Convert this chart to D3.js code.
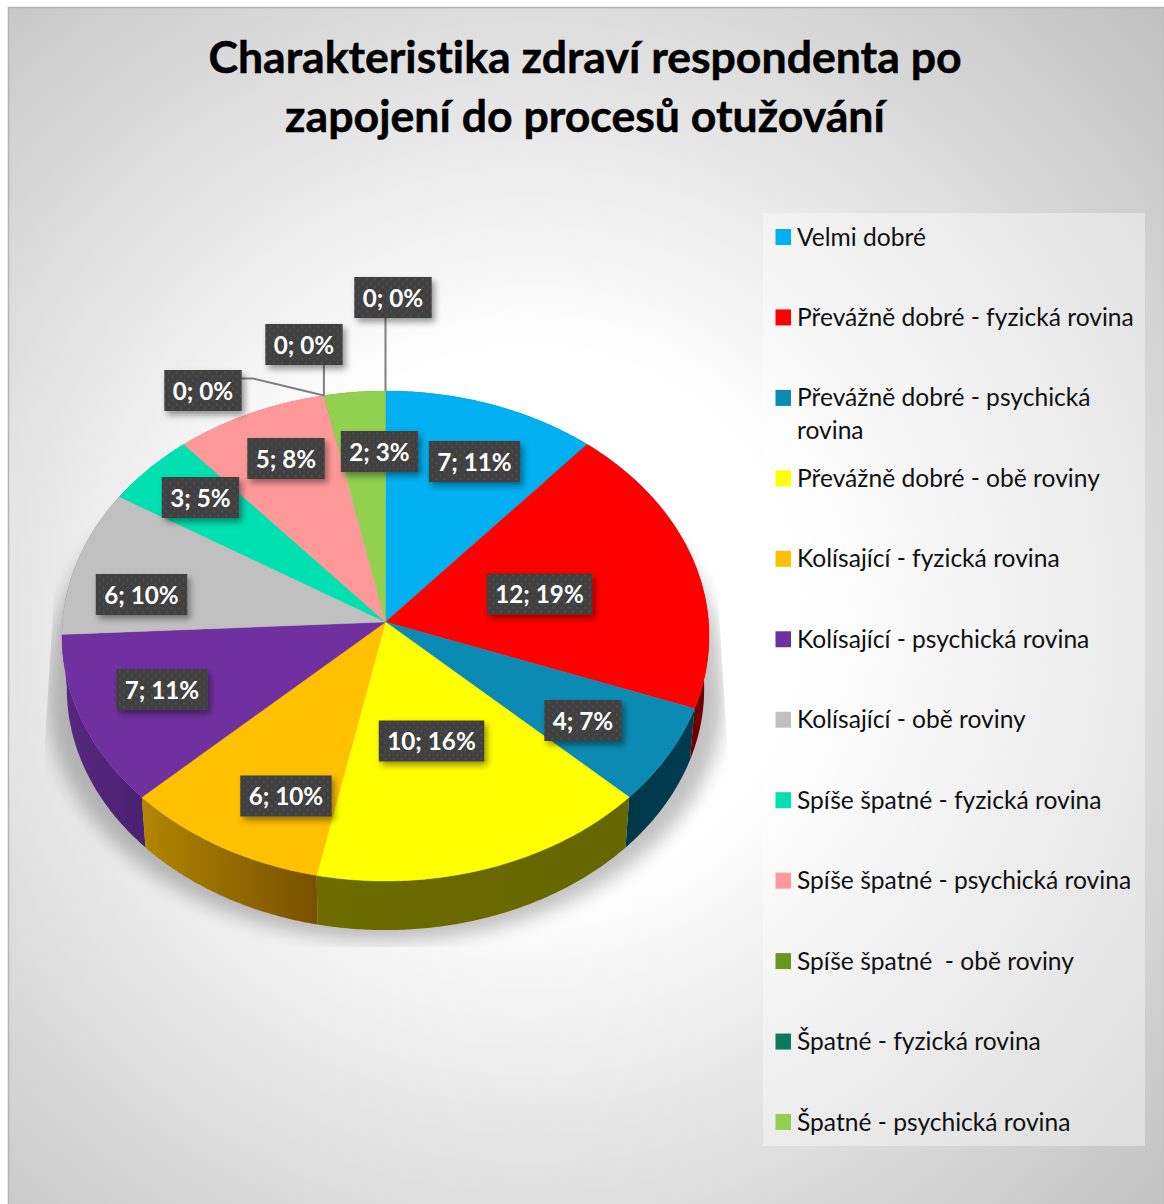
<!DOCTYPE html>
<html><head><meta charset="utf-8">
<script src="https://cdn.jsdelivr.net/npm/d3@7"></script>
<style>
html,body{margin:0;padding:0;background:#fff}
svg{display:block}
text{font-family:Lato,"Noto Sans",sans-serif;white-space:pre;font-variant-ligatures:none}
</style></head><body>
<div id="chart"></div>
<script>
const titleLines = ["Charakteristika zdraví respondenta po", "zapojení do procesů otužování"];
const categories = ["Velmi dobré","Převážně dobré - fyzická rovina","Převážně dobré - psychická rovina","Převážně dobré - obě roviny","Kolísající - fyzická rovina","Kolísající - psychická rovina","Kolísající - obě roviny","Spíše špatné - fyzická rovina","Spíše špatné - psychická rovina","Spíše špatné  - obě roviny","Špatné - fyzická rovina","Špatné - psychická rovina"];
const counts   = [7,12,4,10,6,7,6,3,5,0,0,2,0];
const percents = [11,19,7,16,10,11,10,5,8,0,0,3,0];
const colors = ["#00b0f0","#ff0000","#0b8bb3","#ffff00","#ffc000","#7030a0","#c0c0c0","#00e0b0","#ff9999","#669a1e","#0a7a5c","#92d050","#92d050"];
const sideStart = ["#006a90","#7c0000","#003c50","#666600","#785000","#4a2070","#747474","#008a6c","#995c5c","#3e5c12","#064a38","#587d30","#587d30"];
const sideEnd   = ["#006a90","#700000","#00384a","#6c6c00","#b28600","#57287f","#747474","#008a6c","#995c5c","#3e5c12","#064a38","#587d30","#587d30"];
// manual data-label layout, px from the pie centre (as a chart stores dragged labels)
const labelOffsets = [[89,-160.5],[154,-28],[197.5,98.5],[46,119],[-99.5,174],[-223.5,67.5],[-244,-27.5],[-185,-124.5],[-99.5,-163.5],[-182.5,-231.5],[-81.5,-277.5],[-6,-170.5],[7.5,-324.5]];

const W = 1164, H = 1204;
const cx = 385.5, cy = 622, A = 323, B = 244.2, K = 0.0571;
const DEPTH = 53, SHRINK = 0.985;

function project(theta, r, lower) {
  const u = r*Math.sin(theta), v = r*Math.cos(theta), d = 1 + K*v;
  const s = lower ? SHRINK : 1;
  return [cx + s*A*u/d, cy - s*B*v/d + (lower ? DEPTH : 0)];
}
const rimAngles = (a,b) => { const n = Math.max(2, Math.ceil((b-a)/0.01)); return d3.range(n+1).map(i => a + (b-a)*i/n); };

const svg = d3.select("#chart").append("svg").attr("width",W).attr("height",H);
const defs = svg.append("defs");

const bg = defs.append("radialGradient").attr("id","bg").attr("gradientUnits","userSpaceOnUse")
  .attr("cx",530).attr("cy",620).attr("r",900);
bg.append("stop").attr("offset",0.3).attr("stop-color","#ffffff");
bg.append("stop").attr("offset",1).attr("stop-color","#bebebe");

const blur = defs.append("filter").attr("id","blur").attr("x","-20%").attr("y","-20%").attr("width","140%").attr("height","140%");
blur.append("feGaussianBlur").attr("stdDeviation",9);

const ds = defs.append("filter").attr("id","boxShadow").attr("x","-20%").attr("y","-30%").attr("width","150%").attr("height","170%");
ds.append("feDropShadow").attr("dx",3).attr("dy",4).attr("stdDeviation",3).attr("flood-color","#000").attr("flood-opacity",0.4);

const pat = defs.append("pattern").attr("id","dots").attr("width",8).attr("height",8).attr("patternUnits","userSpaceOnUse");
pat.append("rect").attr("width",8).attr("height",8).attr("fill","#404040");
pat.append("rect").attr("x",1).attr("y",1).attr("width",1.6).attr("height",1.6).attr("fill","#555555");
pat.append("rect").attr("x",5).attr("y",5).attr("width",1.6).attr("height",1.6).attr("fill","#555555");

defs.append("clipPath").attr("id","shadowClip").append("polygon")
  .attr("points","60,500 42,790 42,947 730,947 730,790 712,500");

// background
svg.append("rect").attr("x",8.5).attr("y",7.5).attr("width",W-8).attr("height",H).attr("fill","url(#bg)").attr("stroke","#b4b4b4").attr("stroke-width",1.5);

// title
svg.append("g").selectAll("text").data(titleLines).join("text")
  .attr("x",585).attr("y",(d,i)=>73+i*58.5).attr("text-anchor","middle")
  .attr("font-size",44.6).attr("font-weight",700).attr("fill","#000")
  .attr("stroke","#000").attr("stroke-width",0.5).text(d=>d);

// pie geometry from d3.pie
const arcs = d3.pie().sort(null).value(d=>d)(counts);
const lineGen = d3.line();

// soft shadow beneath the pie
const ringAngles = rimAngles(0,2*Math.PI);
const topRing = ringAngles.map(t => { const p = project(t,1,false); return [cx+(p[0]-cx)*1.035, p[1]+32]; });
const lowRing = ringAngles.map(t => { const p = project(t,1,true); return [cx+(p[0]-cx)*1.06, p[1]+10]; });
svg.append("g").attr("clip-path","url(#shadowClip)")
  .append("path").attr("d",lineGen(topRing)+"Z"+lineGen(lowRing)+"Z").attr("fill","#000").attr("opacity",0.24).attr("filter","url(#blur)");

// side walls, back to front
arcs.forEach((a,i)=>{
  if (a.endAngle<=a.startAngle) return;
  const p0 = project(a.startAngle,1,false), p1 = project(a.endAngle,1,false);
  const g = defs.append("linearGradient").attr("id","side"+i).attr("gradientUnits","userSpaceOnUse")
    .attr("x1",p0[0]).attr("x2",p1[0]).attr("y1",0).attr("y2",0);
  g.append("stop").attr("offset",0).attr("stop-color",sideStart[i]);
  g.append("stop").attr("offset",1).attr("stop-color",sideEnd[i]);
});
const frontOrder = arcs.map((a,i)=>({a,i})).filter(d=>d.a.endAngle>d.a.startAngle)
  .sort((p,q)=>Math.abs((q.a.startAngle+q.a.endAngle)/2-Math.PI)-Math.abs((p.a.startAngle+p.a.endAngle)/2-Math.PI));
svg.append("g").selectAll("path").data(frontOrder).join("path")
  .attr("d",d=>{
    const ts = rimAngles(d.a.startAngle,d.a.endAngle);
    const pts = ts.map(t=>project(t,1,false)).concat(ts.slice().reverse().map(t=>project(t,1,true)));
    return lineGen(pts)+"Z";
  })
  .attr("fill",d=>`url(#side${d.i})`);

// top face
svg.append("g").selectAll("path").data(arcs.filter(a=>a.endAngle>a.startAngle)).join("path")
  .attr("d",a=>{
    const pts = [[cx,cy]].concat(rimAngles(a.startAngle,a.endAngle).map(t=>project(t,1,false)));
    return lineGen(pts)+"Z";
  })
  .attr("fill",a=>colors[a.index]).attr("stroke",a=>colors[a.index]).attr("stroke-width",0.4);

// leader lines for the zero-sized slices
const leaderG = svg.append("g").attr("fill","none").attr("stroke","#7f7f7f").attr("stroke-width",2);
[9,10,12].forEach(i=>{
  const edge = project(i===12?2*Math.PI:arcs[i].startAngle,1,false);
  const o = labelOffsets[i], lx = cx+o[0], ly = cy+o[1];
  const pts = i===9 ? [[lx+38,ly-12],[lx+50,ly-12],edge] : [[edge[0],ly+20],edge];
  leaderG.append("path").attr("d",lineGen(pts));
});

// data labels
const lab = svg.append("g").selectAll("g").data(arcs).join("g")
  .attr("transform",a=>`translate(${cx+labelOffsets[a.index][0]},${cy+labelOffsets[a.index][1]})`);
const labRect = lab.append("rect").attr("fill","url(#dots)").attr("filter","url(#boxShadow)");
const labText = lab.append("text").attr("text-anchor","middle").attr("y",9)
  .attr("font-size",25.5).attr("font-weight",700).attr("fill","#fff")
  .text(a=>`${counts[a.index]}; ${percents[a.index]}%`);
labText.each(function(a,i){
  const tw = this.getComputedTextLength()*0.95;
  d3.select(this).attr("textLength",tw).attr("lengthAdjust","spacingAndGlyphs");
  const w = tw+17;
  d3.select(labRect.nodes()[i]).attr("x",-w/2).attr("y",-20.5).attr("width",w).attr("height",41);
});

// legend
svg.append("rect").attr("x",763).attr("y",213).attr("width",382).attr("height",933).attr("fill","#fff").attr("opacity",0.4);
const legendY = d3.scaleLinear().domain([0,categories.length-1]).range([237,1122]);
const leg = svg.append("g").selectAll("g").data(categories).join("g")
  .attr("transform",(d,i)=>`translate(0,${legendY(i)})`);
leg.append("rect").attr("x",775.5).attr("y",-8).attr("width",15.5).attr("height",16).attr("fill",(d,i)=>colors[i]);
leg.each(function(d){
  const g = d3.select(this);
  const t = g.append("text").attr("x",797).attr("y",8.5).attr("font-size",24.6).attr("fill","#111");
  const words = d.split(" ");
  let line = "";
  let span = t.append("tspan").attr("x",797);
  words.forEach(w=>{
    const next = line===""?w:line+" "+w;
    span.text(next);
    if (span.node().getComputedTextLength()>345 && line!=="") {
      span.text(line);
      span = t.append("tspan").attr("x",797).attr("dy",33).text(w);
      line = w;
    } else line = next;
  });
});
</script>
</body></html>
